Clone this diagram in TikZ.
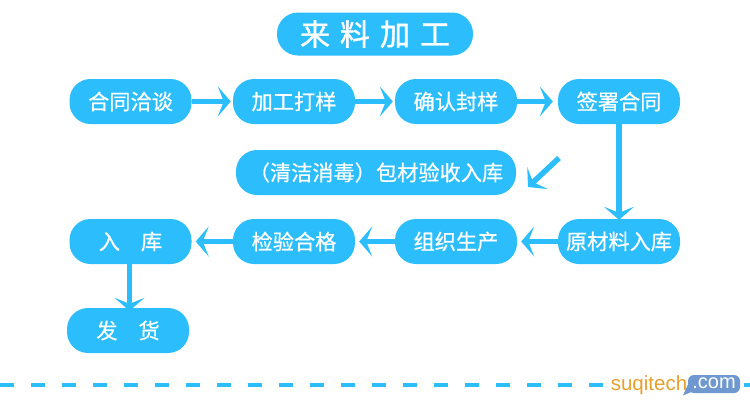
\documentclass[tikz,border=0pt]{standalone}
\usepackage{fontspec}
\setmainfont{Noto Sans CJK SC}[FakeBold=0.6]
\newfontfamily\titlefont{Noto Sans CJK SC}[FakeBold=1.2]
\newfontfamily\logofont{Liberation Sans}
\usetikzlibrary{arrows.meta}
\definecolor{skyb}{HTML}{2CBDFD}
\definecolor{logoor}{HTML}{E8A02C}
\definecolor{logobl}{HTML}{6F97D0}
\tikzset{
  stepbox/.style={fill=skyb,rounded corners=21pt,minimum width=122pt,minimum height=45pt,inner sep=0pt,
    text=white,font=\fontsize{21.2}{24}\selectfont},
  flow/.style={draw=skyb,line width=5.5pt,-{Stealth[length=13pt,width=30pt,inset=6pt]}},
}
\begin{document}
\begin{tikzpicture}[x=1pt,y=-1pt]
\useasboundingbox (0,0) rectangle (750,408);
\fill[white] (0,0) rectangle (750,408);
\node[stepbox,minimum width=196pt,minimum height=43pt,font=\titlefont\fontsize{30}{34}\selectfont] (title) at (375,34) {来\hspace{10pt}料\hspace{10pt}加\hspace{10pt}工};
\node[stepbox] (a1) at (130.5,101.5) {合同洽谈};
\node[stepbox] (a2) at (294,101.5) {加工打样};
\node[stepbox] (a3) at (456,101.5) {确认封样};
\node[stepbox] (a4) at (619,101.5) {签署合同};
\node[stepbox,minimum width=280pt] (b) at (376,172.5) {（清洁消毒）包材验收入库\hspace{11pt}};
\node[stepbox] (c1) at (130.5,241.5) {入\hspace{21pt}库};
\node[stepbox] (c2) at (294,241.5) {检验合格};
\node[stepbox] (c3) at (456,241.5) {组织生产};
\node[stepbox] (c4) at (619,241.5) {原材料入库};
\node[stepbox] (d) at (128,330.5) {发\hspace{21pt}货};
\draw[flow] (a1.east) -- ([xshift=-2pt]a2.west);
\draw[flow] (a2.east) -- ([xshift=-2pt]a3.west);
\draw[flow] (a3.east) -- ([xshift=-5pt]a4.west);
\draw[flow] (a4.south) -- ([yshift=-1pt]c4.north);
\coordinate (s1) at (559,158);
\coordinate (s2) at (528,187);
\draw[flow] (s1) -- (s2);
\draw[flow] (c4.west) -- ([xshift=4pt]c3.east);
\draw[flow] (c3.west) -- ([xshift=4pt]c2.east);
\draw[flow] (c2.west) -- ([xshift=4pt]c1.east);
\draw[flow] ([xshift=-1pt]c1.south) -- ([xshift=1.5pt,yshift=-3pt]d.north);
\coordinate (l1) at (0,384.5);
\coordinate (l2) at (750,384.5);
\draw[skyb,line width=4pt,dash pattern=on 14pt off 17pt] (l1) -- (l2);
\fill[white] (608,372) rectangle (742,398);
\node[inner sep=0pt,text=logoor,font=\logofont\fontsize{20.5}{22}\selectfont] (logo) at (649,385.5) {suqitech};
\fill[logobl,rounded corners=6pt] (688,375) rectangle (740,393);
\fill[logobl] (696,390) -- (683,395.5) -- (689,382) -- cycle;
\node[inner sep=0pt,text=white,font=\logofont\fontsize{20}{22}\selectfont] (com) at (714,383.5) {.com};
\end{tikzpicture}
\end{document}
